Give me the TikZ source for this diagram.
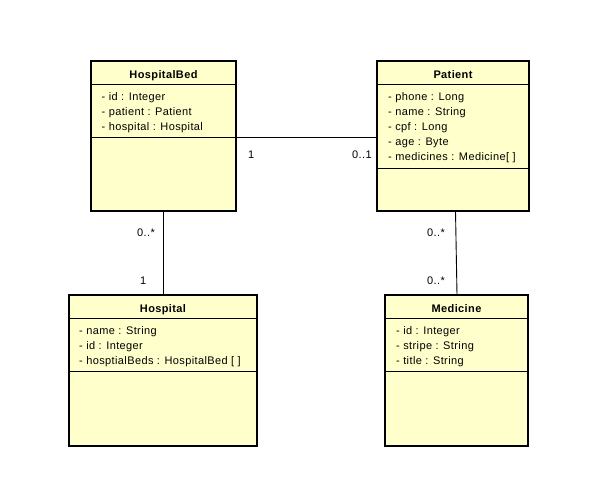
\documentclass[tikz,border=0pt]{standalone}
\usepackage{fontspec}
\setmainfont[LetterSpace=3.5]{Liberation Sans}
\usetikzlibrary{calc}
\definecolor{umlfill}{HTML}{FFFFCC}

\begin{document}
\begin{tikzpicture}[x=1pt,y=-1pt,
  classbox/.style={draw, line width=2pt, fill=umlfill, anchor=north west,
                   inner sep=0pt, outer sep=0pt},
  divider/.style={line width=1pt},
  assoc/.style={line width=0.9pt},
  classname/.style={font=\fontsize{11}{13}\selectfont\bfseries, anchor=base, inner sep=0pt},
  attr/.style={font=\fontsize{11}{13}\selectfont, anchor=base west, inner sep=0pt},
  mult/.style={font=\fontsize{11}{13}\selectfont, anchor=base west, inner sep=0pt}]

\useasboundingbox (0,0) rectangle (596,491);

% ---- HospitalBed ----
\node[classbox, minimum width=145pt, minimum height=150pt] (bed) at (91,61) {};
\node[classname] (bedT) at ($(bed.north)+(0,17)$) {HospitalBed};
\draw[divider] ($(bed.north west)+(0,23)$) -- ($(bed.north east)+(0,23)$);
\draw[divider] ($(bed.north west)+(0,76)$) coordinate (bedS) -- ($(bed.north east)+(0,76)$) coordinate (bedE);
\node[attr] (bedA1) at ($(bed.north west)+(10.5,39)$) {- id : Integer};
\node[attr] (bedA2) at ($(bed.north west)+(10.5,54)$) {- patient : Patient};
\node[attr] (bedA3) at ($(bed.north west)+(10.5,69)$) {- hospital : Hospital};

% ---- Patient ----
\node[classbox, minimum width=152pt, minimum height=150pt] (pat) at (377,61) {};
\node[classname] (patT) at ($(pat.north)+(0,17)$) {Patient};
\draw[divider] ($(pat.north west)+(0,23)$) -- ($(pat.north east)+(0,23)$);
\draw[divider] ($(pat.north west)+(0,107)$) -- ($(pat.north east)+(0,107)$);
\node[attr] (patA1) at ($(pat.north west)+(11,39)$) {- phone : Long};
\node[attr] (patA2) at ($(pat.north west)+(11,54)$) {- name : String};
\node[attr] (patA3) at ($(pat.north west)+(11,69)$) {- cpf : Long};
\node[attr] (patA4) at ($(pat.north west)+(11,84)$) {- age : Byte};
\node[attr] (patA5) at ($(pat.north west)+(11,99)$) {- medicines : Medicine[ ]};

% ---- Hospital ----
\node[classbox, minimum width=188pt, minimum height=151pt] (hosp) at (69,295) {};
\node[classname] (hospT) at ($(hosp.north)+(0,17)$) {Hospital};
\draw[divider] ($(hosp.north west)+(0,23)$) -- ($(hosp.north east)+(0,23)$);
\draw[divider] ($(hosp.north west)+(0,76)$) -- ($(hosp.north east)+(0,76)$);
\node[attr] (hospA1) at ($(hosp.north west)+(10,39)$) {- name : String};
\node[attr] (hospA2) at ($(hosp.north west)+(10,54)$) {- id : Integer};
\node[attr] (hospA3) at ($(hosp.north west)+(10,69)$) {- hosptialBeds : HospitalBed [ ]};

% ---- Medicine ----
\node[classbox, minimum width=143pt, minimum height=151pt] (med) at (385,295) {};
\node[classname] (medT) at ($(med.north)+(0,17)$) {Medicine};
\draw[divider] ($(med.north west)+(0,23)$) -- ($(med.north east)+(0,23)$);
\draw[divider] ($(med.north west)+(0,76)$) -- ($(med.north east)+(0,76)$);
\node[attr] (medA1) at ($(med.north west)+(11,39)$) {- id : Integer};
\node[attr] (medA2) at ($(med.north west)+(11,54)$) {- stripe : String};
\node[attr] (medA3) at ($(med.north west)+(11,69)$) {- title : String};

% ---- associations ----
\draw[assoc] (bedE) -- (bedE -| pat.west);
\draw[assoc] (bed.south) -- (bed.south |- hosp.north);
\coordinate (patLow) at ($(pat.south)+(2.5,0)$);
\coordinate (medTop) at ($(med.north)+(0.5,0)$);
\draw[assoc] (patLow) -- (medTop);

% ---- multiplicities ----
\node[mult] (m1) at (248,158) {1};
\node[mult] (m2) at (352,158) {0..1};
\node[mult] (m3) at (137,236) {0..*};
\node[mult] (m4) at (140,284) {1};
\node[mult] (m5) at (427,236) {0..*};
\node[mult] (m6) at (427,284) {0..*};
\end{tikzpicture}
\end{document}
